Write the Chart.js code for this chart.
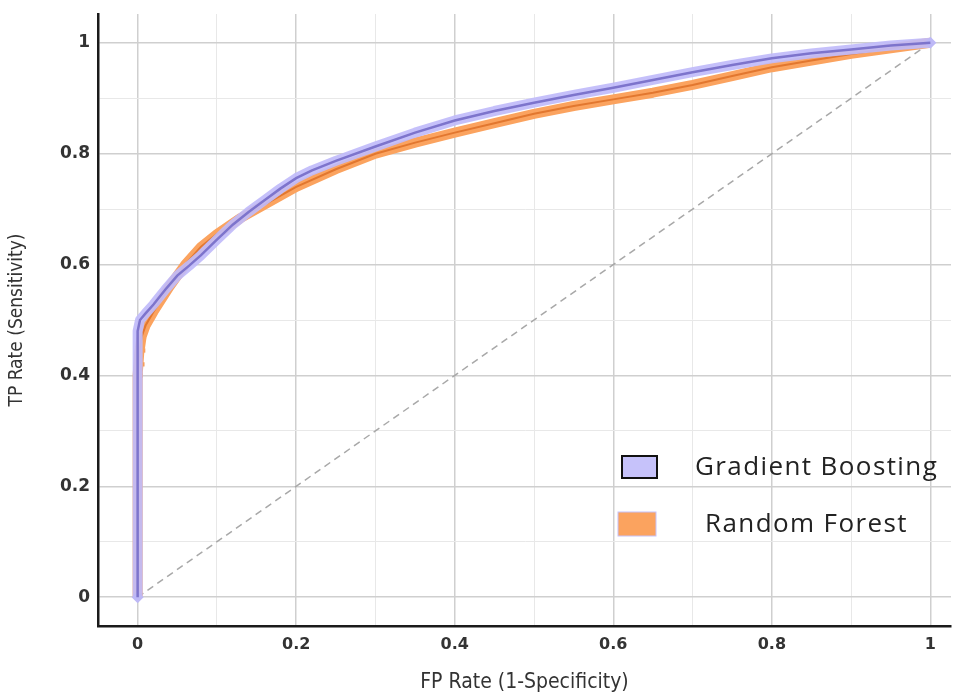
<!DOCTYPE html>
<html>
<head>
<meta charset="utf-8">
<script src="https://cdn.jsdelivr.net/npm/chart.js@4/dist/chart.umd.min.js"></script>
<style>
  html, body { margin: 0; padding: 0; background: #fff; }
  #wrap { width: 957px; height: 695px; }
</style>
</head>
<body>
<div id="wrap"><canvas id="roc" width="957" height="695"></canvas></div>
<script>
// ROC curve points
const fprGB = [0, 0, 0.003, 0.01, 0.02, 0.035, 0.05, 0.065, 0.08, 0.1, 0.12, 0.14, 0.16, 0.18, 0.2, 0.22, 0.25, 0.3, 0.35, 0.4, 0.45, 0.5, 0.55, 0.6, 0.65, 0.7, 0.75, 0.8, 0.85, 0.9, 0.95, 1];
const tprGB = [0, 0.48, 0.5, 0.512, 0.528, 0.555, 0.58, 0.598, 0.617, 0.645, 0.672, 0.695, 0.716, 0.737, 0.756, 0.77, 0.787, 0.813, 0.838, 0.86, 0.877, 0.892, 0.906, 0.919, 0.933, 0.947, 0.96, 0.972, 0.981, 0.988, 0.995, 1];

const fprRF = [0, 0, 0.002, 0.005, 0.01, 0.02, 0.04, 0.06, 0.08, 0.1, 0.13, 0.16, 0.2, 0.25, 0.3, 0.35, 0.4, 0.45, 0.5, 0.55, 0.6, 0.65, 0.7, 0.75, 0.8, 0.85, 0.9, 0.95, 1];
const tprRF = [0, 0.40, 0.44, 0.47, 0.49, 0.515, 0.56, 0.6, 0.632, 0.655, 0.684, 0.708, 0.74, 0.772, 0.8, 0.82, 0.838, 0.855, 0.872, 0.886, 0.898, 0.91, 0.924, 0.94, 0.956, 0.968, 0.98, 0.99, 1];

// loose orange points near the origin of the RF curve
const rfDotsX = [0.004, 0.006, 0.004, 0.007, 0.005, 0.008];
const rfDotsY = [0.40, 0.42, 0.435, 0.445, 0.46, 0.47];

const diagX = [0, 1];
const diagY = [0, 1];

const seriesNames = ['Gradient Boosting', 'Random Forest'];

const toPts = (xs, ys) => xs.map((x, i) => ({ x: x, y: ys[i] }));
const isStep = (v, s) => Math.abs(v / s - Math.round(v / s)) < 1e-6;

// legend drawn inside the plot, lower right
const boxLegend = {
  id: 'boxLegend',
  afterDraw(chart) {
    const { ctx, chartArea: a } = chart;
    ctx.save();
    ctx.font = '500 26px "Open Sans", sans-serif';
    ctx.letterSpacing = '1.4px';
    ctx.textBaseline = 'middle';
    // Gradient Boosting
    ctx.fillStyle = '#c6c2fa';
    ctx.fillRect(a.left + 524, 456, 35, 22);
    ctx.strokeStyle = '#111';
    ctx.lineWidth = 2;
    ctx.strokeRect(a.left + 524, 456, 35, 22);
    ctx.fillStyle = '#222';
    ctx.fillText(seriesNames[0], a.left + 597, 468);
    // Random Forest
    ctx.fillStyle = '#fba35f';
    ctx.fillRect(a.left + 520, 512, 38, 24);
    ctx.strokeStyle = '#c6c2fa';
    ctx.lineWidth = 1;
    ctx.strokeRect(a.left + 520, 512, 38, 24);
    ctx.fillStyle = '#222';
    ctx.fillText(seriesNames[1], a.left + 607, 525);
    ctx.restore();
  }
};

const gridColor = c => isStep(c.tick.value, 0.2) ? '#cfcfcf' : (isStep(c.tick.value, 0.1) ? '#e8e8e8' : 'rgba(0,0,0,0)');
const gridWidth = c => isStep(c.tick.value, 0.2) ? 1.5 : 1;
const tickLabel = v => isStep(v, 0.2) ? String(Math.round(v * 10) / 10) : '';

new Chart(document.getElementById('roc'), {
  type: 'line',
  data: {
    datasets: [
      {
        label: 'diagonal',
        data: toPts(diagX, diagY),
        borderColor: '#a8a8a8',
        borderWidth: 1.5,
        borderDash: [7, 5],
        pointRadius: 0,
        order: 7
      },
      {
        label: 'rf dots',
        type: 'scatter',
        data: toPts(rfDotsX, rfDotsY),
        pointStyle: 'rect',
        pointRadius: 3,
        pointBackgroundColor: '#f59a55',
        pointBorderWidth: 0,
        showLine: false,
        order: 5
      },
      {
        label: seriesNames[1],
        data: toPts(fprRF, tprRF),
        borderColor: '#fba35f',
        borderWidth: 10,
        borderJoinStyle: 'round',
        pointRadius: 0,
        order: 4
      },
      {
        label: seriesNames[1] + ' line',
        data: toPts(fprRF, tprRF),
        borderColor: '#e2772f',
        borderWidth: 2,
        pointRadius: 0,
        order: 3
      },
      {
        label: seriesNames[0],
        data: toPts(fprGB, tprGB),
        borderColor: 'rgba(192,187,250,0.92)',
        borderWidth: 10,
        borderJoinStyle: 'round',
        pointStyle: 'rectRot',
        pointRadius: ctx => (ctx.dataIndex === 0 || ctx.dataIndex === fprGB.length - 1) ? 6 : 0,
        pointBackgroundColor: '#bdb8f6',
        pointBorderWidth: 0,
        order: 2
      },
      {
        label: seriesNames[0] + ' line',
        data: toPts(fprGB, tprGB),
        borderColor: '#7d74cc',
        borderWidth: 2.5,
        pointRadius: 0,
        order: 1
      }
    ]
  },
  options: {
    responsive: false,
    animation: false,
    layout: { padding: { top: 14, right: 0, left: 0, bottom: 0 } },
    plugins: {
      legend: { display: false },
      tooltip: { enabled: false }
    },
    scales: {
      x: {
        type: 'linear',
        min: -0.05,
        max: 1.026,
        afterFit: s => { s.height = 69; s.paddingLeft = 0; s.paddingRight = 0; },
        border: { display: true, color: '#1a1a1a', width: 2.5 },
        grid: { drawTicks: false, color: gridColor, lineWidth: gridWidth },
        ticks: {
          stepSize: 0.1,
          includeBounds: false,
          autoSkip: false,
          maxRotation: 0,
          padding: 9,
          color: '#333',
          font: { family: '"DejaVu Sans", sans-serif', size: 16, weight: 'bold' },
          callback: tickLabel
        },
        title: {
          display: true,
          text: 'FP Rate (1-Specificity)',
          color: '#333',
          padding: { top: 10, bottom: 0 },
          font: { family: '"DejaVu Sans Condensed", "DejaVu Sans", sans-serif', size: 21 }
        }
      },
      y: {
        type: 'linear',
        min: -0.052,
        max: 1.052,
        afterFit: s => { s.width = 98; s.paddingTop = 0; s.paddingBottom = 0; },
        border: { display: true, color: '#1a1a1a', width: 2.5 },
        grid: { drawTicks: false, color: gridColor, lineWidth: gridWidth },
        ticks: {
          stepSize: 0.1,
          includeBounds: false,
          autoSkip: false,
          padding: 8,
          color: '#333',
          font: { family: '"DejaVu Sans", sans-serif', size: 17, weight: 'bold' },
          callback: tickLabel
        },
        title: {
          display: true,
          text: 'TP Rate (Sensitivity)',
          color: '#333',
          padding: { top: 6, bottom: 0 },
          font: { family: '"DejaVu Sans Condensed", "DejaVu Sans", sans-serif', size: 19 }
        }
      }
    }
  },
  plugins: [boxLegend]
});
</script>
</body>
</html>
